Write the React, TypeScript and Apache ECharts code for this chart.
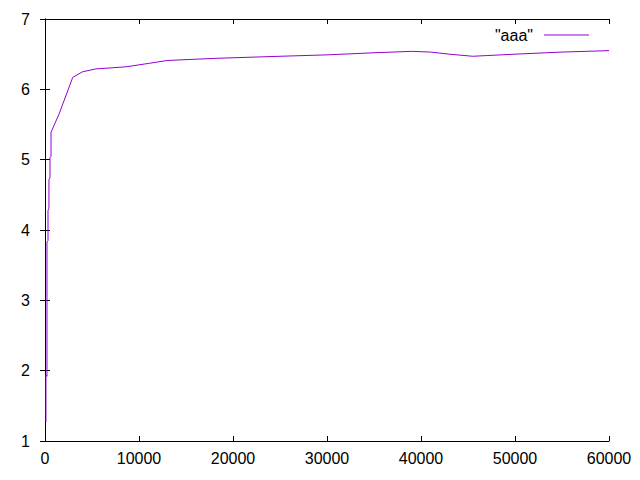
import React, { useEffect, useRef } from "react";
import * as echarts from "echarts";

const seriesName = '"aaa"';
const xValues = [100, 100, 210, 210, 320, 320, 420, 420, 530, 530, 640, 640, 1500, 2950, 4000, 5400, 8600, 11100, 13000, 18000, 25000, 30000, 35000, 39000, 41000, 43000, 45500, 47000, 50000, 55000, 60000];
const yValues = [1.27, 1.94, 1.92, 3.83, 3.85, 4.28, 4.3, 4.72, 4.74, 5.03, 5.05, 5.39, 5.65, 6.17, 6.25, 6.29, 6.32, 6.37, 6.41, 6.44, 6.47, 6.49, 6.52, 6.54, 6.53, 6.5, 6.47, 6.48, 6.5, 6.53, 6.55];
const xRange = [0, 60000, 10000];
const yRange = [1, 7, 1];

export default function App() {
  const ref = useRef<HTMLDivElement>(null);
  useEffect(() => {
    const chart = echarts.init(ref.current!, null, { renderer: "svg" });
    const font = "'Liberation Sans', Arial, sans-serif";
    const data = xValues.map((x, i) => [x, yValues[i]]);
    const line = { show: true, lineStyle: { color: "#000", width: 1 } };
    const tick = { show: true, inside: true, length: 5, lineStyle: { color: "#000" } };
    const baseX = {
      type: "value" as const,
      min: xRange[0],
      max: xRange[1],
      interval: xRange[2],
      splitLine: { show: false },
      axisLine: line,
      axisTick: tick,
    };
    const baseY = {
      type: "value" as const,
      min: yRange[0],
      max: yRange[1],
      interval: yRange[2],
      splitLine: { show: false },
      axisLine: line,
      axisTick: tick,
    };
    chart.setOption({
      animation: false,
      backgroundColor: "#fff",
      grid: { left: 45, right: 31, top: 19, bottom: 39, show: false },
      legend: {
        show: true,
        right: 46,
        top: 22,
        align: "right",
        icon: "rect",
        itemWidth: 45,
        itemHeight: 1,
        textStyle: { fontFamily: font, fontSize: 16, color: "#000", padding: [0, 6, 0, 0] },
        data: [seriesName],
      },
      xAxis: [
        {
          ...baseX,
          position: "bottom",
          axisLabel: {
            show: true,
            margin: 9,
            fontFamily: font,
            fontSize: 16,
            color: "#000",
            formatter: (v: number) => String(v),
          },
        },
        { ...baseX, position: "top", axisLabel: { show: false } },
      ],
      yAxis: [
        {
          ...baseY,
          position: "left",
          axisLabel: {
            show: true,
            margin: 15,
            fontFamily: font,
            fontSize: 16,
            color: "#000",
            formatter: (v: number) => String(v),
          },
        },
        { ...baseY, position: "right", axisLabel: { show: false } },
      ],
      series: [
        {
          name: seriesName,
          type: "line",
          xAxisIndex: 0,
          yAxisIndex: 0,
          data,
          showSymbol: false,
          symbol: "none",
          color: "#9400d3",
          lineStyle: { width: 1, color: "#9400d3" },
        },
      ],
    });
    return () => chart.dispose();
  }, []);
  return (
    <div
      ref={ref}
      style={{ position: "absolute", left: 0, top: 0, width: 640, height: 480 }}
    />
  );
}
